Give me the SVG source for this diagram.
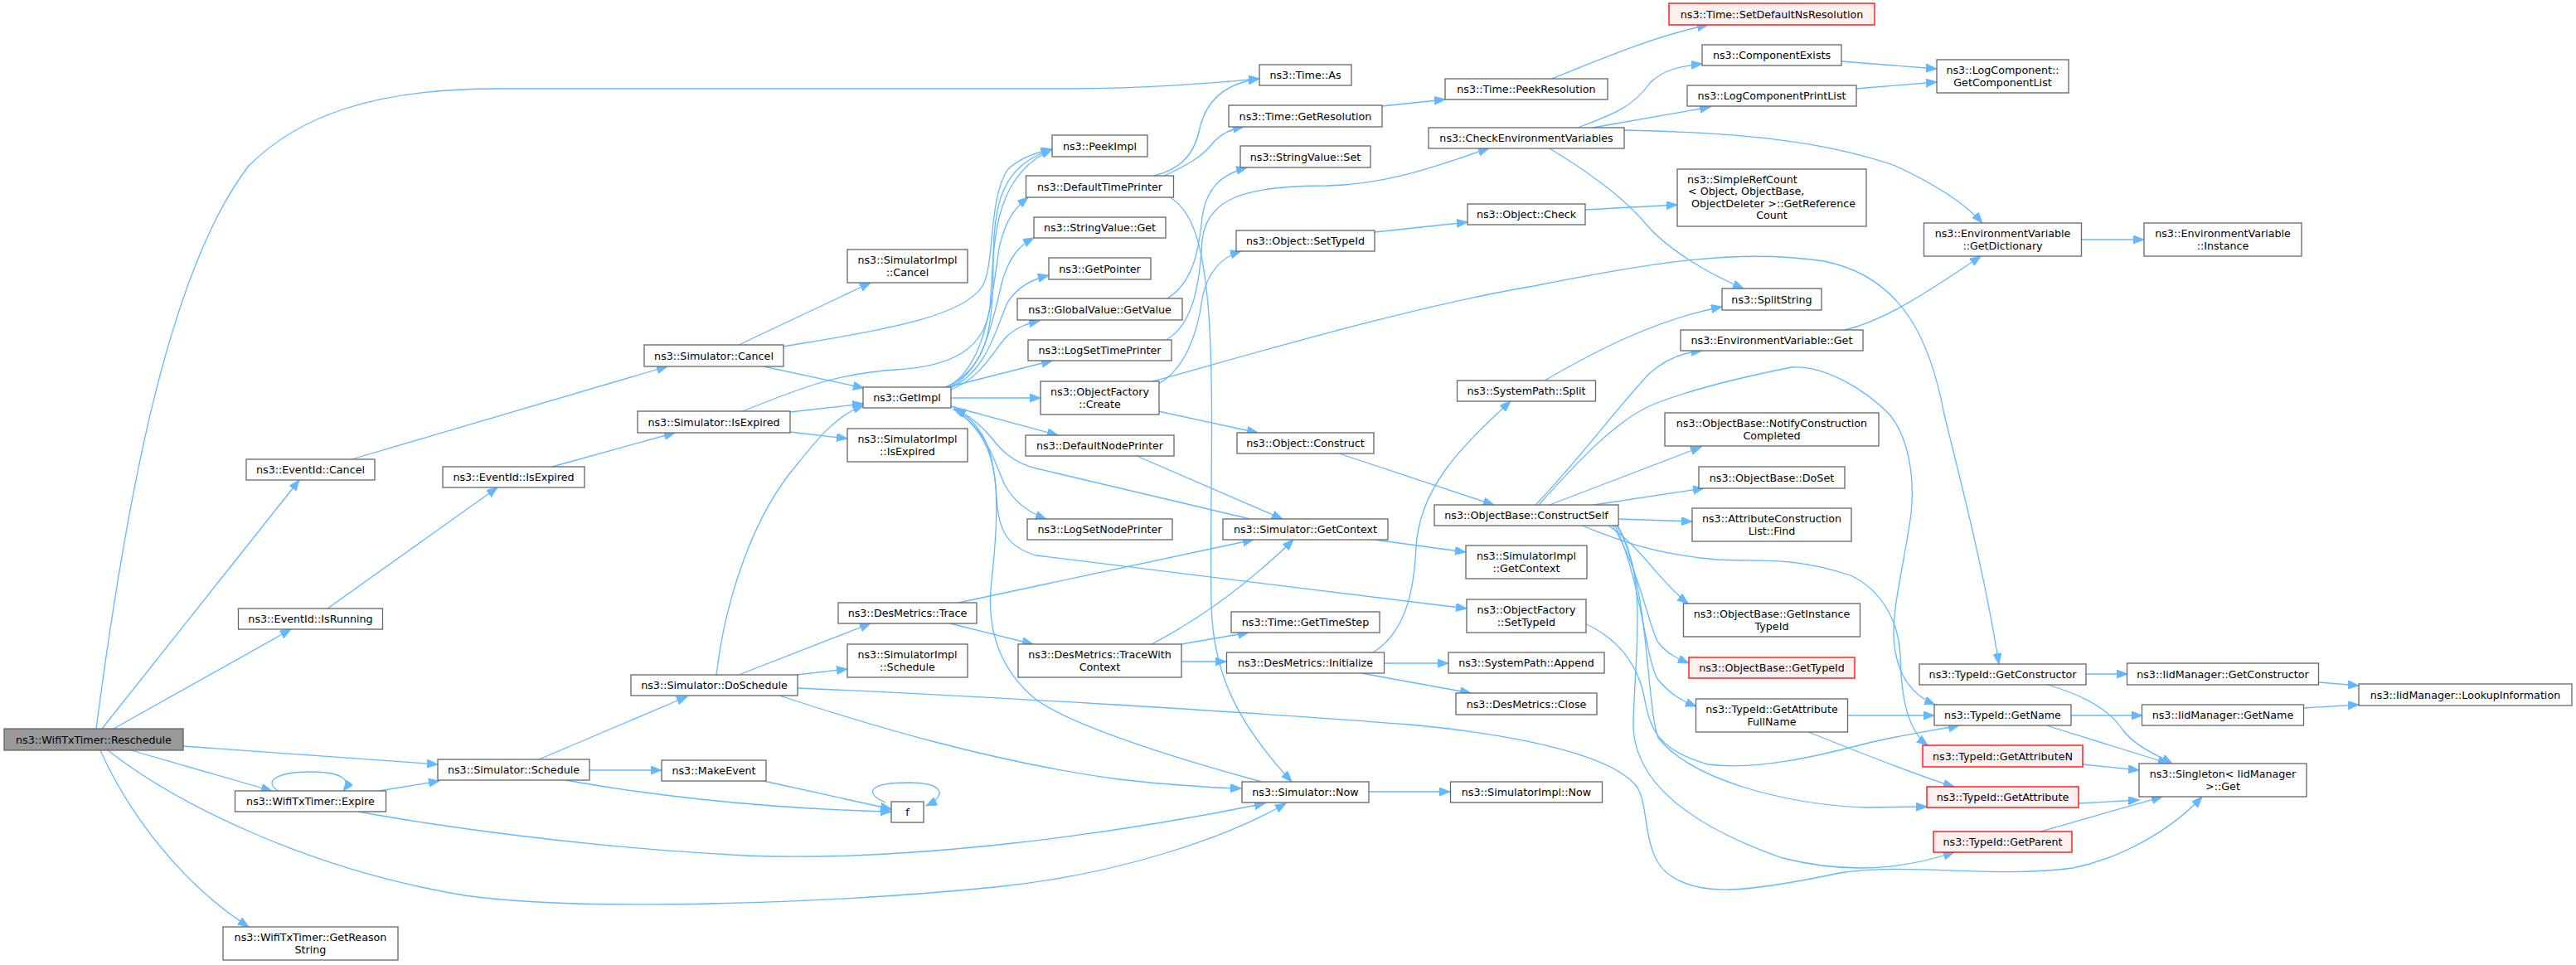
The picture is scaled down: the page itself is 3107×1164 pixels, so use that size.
<svg xmlns="http://www.w3.org/2000/svg" width="3107" height="1164" viewBox="0 0 3107 1164">
<style>
.node rect{fill:#ffffff;stroke:#666666;stroke-width:1.3}
.root rect{fill:#999999}
.red rect{fill:#fff0f0;stroke:#ff0000}
text{font-family:"DejaVu Sans","Liberation Sans",sans-serif;font-size:12.7px;fill:#000000;text-anchor:middle}
text.l{text-anchor:start}
#edges path{fill:none;stroke:#63b8ff;stroke-width:1.3;marker-end:url(#arr)}
</style>
<defs>
<marker id="arr" markerUnits="userSpaceOnUse" markerWidth="14" markerHeight="11" refX="13" refY="5" orient="auto"><path d="M0,0 L13,5 L0,10 z" fill="#63b8ff" stroke="#63b8ff" stroke-width="1"/></marker>
</defs>
<rect width="3107" height="1164" fill="#ffffff"/>
<g id="edges">
<path d="M116,879 C150,620 200,330 300,200 C360,140 450,107 600,107 L1290,107 C1400,106 1460,100 1519,95"/>
<path d="M123,879 L361,579"/>
<path d="M137,879 L351,759"/>
<path d="M221,900 L528,922"/>
<path d="M158,905 L328,954"/>
<path d="M130,905 C220,975 380,1050 560,1080 C700,1100 1000,1090 1200,1070 C1350,1055 1480,1010 1551,969"/>
<path d="M121,905 C150,970 210,1060 300,1118"/>
<path d="M424,554 L805,442"/>
<path d="M395,734 L600,588"/>
<path d="M666,563 L814,522"/>
<path d="M891,416 L1050,341"/>
<path d="M921,442 L1042,468"/>
<path d="M945,418 C1050,400 1160,385 1185,345 C1200,320 1192,240 1215,205 C1230,190 1250,184 1269,180"/>
<path d="M953,497 L1041,487"/>
<path d="M953,521 L1022,529"/>
<path d="M896,496 C960,470 1010,450 1080,446 C1150,442 1188,420 1194,370 C1200,300 1193,215 1269,180"/>
<path d="M650,916 L829,840"/>
<path d="M711,929 L798,929"/>
<path d="M682,941 C760,955 900,975 1075,979"/>
<path d="M921,942 L1075,976"/>
<path d="M1068,968 C1040,956 1050,944 1095,944 C1140,944 1142,960 1117,972"/>
<path d="M457,954 L530,942"/>
<path d="M336,954 C318,944 330,931 375,931 C410,931 425,940 414,954"/>
<path d="M432,979 C520,995 700,1022 900,1032 C1100,1040 1350,1005 1526,969"/>
<path d="M891,814 L1050,752"/>
<path d="M961,814 L1022,807"/>
<path d="M864,814 C875,720 910,620 960,562 C985,530 1010,500 1042,489"/>
<path d="M940,839 C1050,875 1200,920 1350,940 C1420,948 1460,950 1497,951"/>
<path d="M962,830 C1150,838 1500,858 1700,874 C1850,888 1950,915 1975,950 C1990,975 1980,1035 2016,1057 C2050,1080 2100,1078 2219,1053 C2300,1040 2400,1060 2500,1047 C2560,1035 2620,1000 2656,961"/>
<path d="M1146,752 L1246,777"/>
<path d="M1156,727 L1512,651"/>
<path d="M1389,777 C1460,740 1520,690 1560,651"/>
<path d="M1425,777 L1506,763"/>
<path d="M1425,798 L1479,798"/>
<path d="M1669,800 L1747,800"/>
<path d="M1642,812 L1774,836"/>
<path d="M1656,787 C1700,760 1706,700 1708,660 C1712,590 1760,540 1822,484"/>
<path d="M1863,459 C1930,420 2000,385 2077,370"/>
<path d="M1651,955 L1749,955"/>
<path d="M1522,943 C1400,910 1280,870 1245,840 C1200,800 1190,750 1196,700 C1205,620 1205,560 1185,525 C1175,508 1165,500 1150,493"/>
<path d="M1508,626 L1250,565 C1220,558 1205,540 1195,527 C1183,512 1170,502 1152,493"/>
<path d="M1658,651 L1768,666"/>
<path d="M1371,550 L1547,626"/>
<path d="M1147,490 L1276,525"/>
<path d="M1150,494 C1190,515 1200,560 1212,585 C1225,608 1245,620 1262,626"/>
<path d="M1150,493 C1192,520 1200,560 1202,600 C1204,640 1215,660 1250,670 L1769,734"/>
<path d="M1140,467 C1190,445 1198,400 1198,320 C1198,240 1210,200 1269,180"/>
<path d="M1143,467 C1190,440 1196,360 1205,300 C1212,265 1225,250 1240,238"/>
<path d="M1145,467 C1190,445 1198,380 1210,335 C1220,305 1232,295 1247,287"/>
<path d="M1146,468 C1190,448 1200,400 1215,365 C1228,345 1245,337 1265,332"/>
<path d="M1147,470 C1185,455 1200,420 1215,405 C1228,394 1240,390 1254,387"/>
<path d="M1147,466 L1269,435"/>
<path d="M1147,480 L1255,480"/>
<path d="M1392,212 C1420,205 1440,190 1447,155 C1455,120 1480,100 1519,95"/>
<path d="M1404,212 C1430,200 1450,190 1465,170 C1475,160 1488,155 1500,153"/>
<path d="M1411,238 C1440,255 1452,300 1458,380 C1465,480 1459,620 1461,730 C1463,820 1500,880 1558,943"/>
<path d="M1408,360 C1440,340 1446,300 1450,262 C1455,225 1475,210 1504,202"/>
<path d="M1408,409 C1440,390 1447,340 1450,290 C1455,240 1500,224 1600,224 C1680,222 1740,197 1796,179"/>
<path d="M1397,463 C1430,445 1445,400 1450,360 C1458,320 1480,308 1497,303"/>
<path d="M1390,460 C1500,430 1700,370 1850,345 C2000,315 2100,300 2200,315 C2300,335 2330,420 2345,500 C2370,600 2395,700 2411,801"/>
<path d="M1397,496 L1517,522"/>
<path d="M1658,280 L1770,268"/>
<path d="M1912,253 L2023,247"/>
<path d="M1615,547 L1802,609"/>
<path d="M1903,154 C1940,140 1970,130 1990,100 C2005,85 2025,80 2053,77"/>
<path d="M1921,154 L2063,129"/>
<path d="M1959,157 C2100,160 2200,170 2286,200 C2330,220 2370,245 2391,269"/>
<path d="M1869,179 C1920,210 1960,240 1985,270 C2010,300 2060,330 2103,348"/>
<path d="M1871,95 C1930,72 1990,45 2060,30"/>
<path d="M1667,128 L1743,120"/>
<path d="M2221,74 L2336,83"/>
<path d="M2239,107 L2336,99"/>
<path d="M2225,398 C2260,390 2300,370 2389,309"/>
<path d="M2511,289 L2586,289"/>
<path d="M1852,609 C1900,560 1960,480 1990,450 C2010,432 2030,425 2053,423"/>
<path d="M1856,609 C1900,560 1950,505 1996,487 C2040,470 2100,455 2161,443 C2200,440 2250,470 2279,500 C2300,525 2310,570 2305,620 C2295,690 2280,740 2285,780 C2290,820 2310,840 2334,850"/>
<path d="M1869,609 L2052,539"/>
<path d="M1922,609 L2055,589"/>
<path d="M1952,626 L2041,629"/>
<path d="M1908,634 C1950,650 1990,668 2071,675 C2120,678 2160,670 2232,694 C2270,712 2290,750 2292,790 C2293,840 2300,880 2325,899"/>
<path d="M1940,634 C1980,660 2000,700 2036,728"/>
<path d="M1945,634 C1975,680 1990,760 2000,775 C2012,790 2025,795 2037,800"/>
<path d="M1948,634 C1980,700 1985,800 2000,820 C2015,838 2030,846 2046,852"/>
<path d="M1950,634 C1990,700 1985,850 2000,890 C2040,940 2150,970 2250,974 L2324,973"/>
<path d="M1951,634 C1990,700 1970,800 1970,880 C1975,950 2050,1000 2150,1035 C2250,1060 2320,1040 2357,1028"/>
<path d="M1912,752 C1950,770 1975,800 1983,840 C1990,880 2000,905 2060,922 C2120,930 2200,910 2250,897 C2300,885 2340,880 2363,875"/>
<path d="M2229,863 L2333,863"/>
<path d="M2181,883 C2250,910 2310,935 2357,949"/>
<path d="M2516,813 L2566,813"/>
<path d="M2470,826 C2500,835 2540,850 2560,880 C2575,900 2600,910 2620,921"/>
<path d="M2498,863 L2584,863"/>
<path d="M2468,875 L2616,921"/>
<path d="M2512,922 L2580,929"/>
<path d="M2507,969 L2580,965"/>
<path d="M2461,1003 L2608,961"/>
<path d="M2797,823 L2845,827"/>
<path d="M2779,854 L2845,850"/>
</g>
<g id="reschedule" class="node root"><rect x="5" y="879" width="216" height="26"/><text x="113" y="896.5">ns3::WifiTxTimer::Reschedule</text></g>
<g id="time_as" class="node"><rect x="1519" y="78" width="111" height="25"/><text x="1574.5" y="95">ns3::Time::As</text></g>
<g id="eventid_cancel" class="node"><rect x="297" y="554" width="155" height="25"/><text x="374.5" y="571">ns3::EventId::Cancel</text></g>
<g id="eventid_isrunning" class="node"><rect x="287.5" y="734" width="174" height="25"/><text x="374.5" y="751">ns3::EventId::IsRunning</text></g>
<g id="sim_schedule" class="node"><rect x="528" y="916" width="183" height="25"/><text x="619.5" y="933">ns3::Simulator::Schedule</text></g>
<g id="expire" class="node"><rect x="283.5" y="954" width="182" height="25"/><text x="374.5" y="971">ns3::WifiTxTimer::Expire</text></g>
<g id="sim_now" class="node"><rect x="1498" y="943" width="153" height="25"/><text x="1574.5" y="960">ns3::Simulator::Now</text></g>
<g id="getreasonstring" class="node"><rect x="269" y="1118" width="211" height="40"/><text x="374.5" y="1135">ns3::WifiTxTimer::GetReason</text><text x="374.5" y="1150">String</text></g>
<g id="sim_cancel" class="node"><rect x="777" y="416" width="168" height="26"/><text x="861" y="433.5">ns3::Simulator::Cancel</text></g>
<g id="eventid_isexpired" class="node"><rect x="534" y="563" width="171" height="25"/><text x="619.5" y="580">ns3::EventId::IsExpired</text></g>
<g id="sim_isexpired" class="node"><rect x="769" y="496" width="184" height="26"/><text x="861" y="513.5">ns3::Simulator::IsExpired</text></g>
<g id="doschedule" class="node"><rect x="761" y="814" width="201" height="25"/><text x="861.5" y="831">ns3::Simulator::DoSchedule</text></g>
<g id="makeevent" class="node"><rect x="798" y="917" width="126" height="25"/><text x="861" y="934">ns3::MakeEvent</text></g>
<g id="f" class="node"><rect x="1075" y="967" width="39" height="25"/><text x="1094.5" y="984">f</text></g>
<g id="simimpl_cancel" class="node"><rect x="1022" y="301" width="145" height="40"/><text x="1094.5" y="318">ns3::SimulatorImpl</text><text x="1094.5" y="333">::Cancel</text></g>
<g id="getimpl" class="node"><rect x="1041" y="467" width="106" height="25"/><text x="1094" y="484">ns3::GetImpl</text></g>
<g id="simimpl_isexpired" class="node"><rect x="1022" y="517" width="145" height="40"/><text x="1094.5" y="534">ns3::SimulatorImpl</text><text x="1094.5" y="549">::IsExpired</text></g>
<g id="desmetrics_trace" class="node"><rect x="1011" y="727" width="167" height="25"/><text x="1094.5" y="744">ns3::DesMetrics::Trace</text></g>
<g id="simimpl_schedule" class="node"><rect x="1022" y="777" width="145" height="40"/><text x="1094.5" y="794">ns3::SimulatorImpl</text><text x="1094.5" y="809">::Schedule</text></g>
<g id="peekimpl" class="node"><rect x="1269" y="163" width="115" height="26"/><text x="1326.5" y="180.5">ns3::PeekImpl</text></g>
<g id="defaulttimeprinter" class="node"><rect x="1237.5" y="212" width="178" height="26"/><text x="1326.5" y="229.5">ns3::DefaultTimePrinter</text></g>
<g id="stringvalue_get" class="node"><rect x="1247" y="262" width="159" height="25"/><text x="1326.5" y="279">ns3::StringValue::Get</text></g>
<g id="getpointer" class="node"><rect x="1265" y="311" width="123" height="26"/><text x="1326.5" y="328.5">ns3::GetPointer</text></g>
<g id="globalvalue_getvalue" class="node"><rect x="1227" y="360" width="199" height="26"/><text x="1326.5" y="377.5">ns3::GlobalValue::GetValue</text></g>
<g id="logsettimeprinter" class="node"><rect x="1240" y="410" width="173" height="25"/><text x="1326.5" y="427">ns3::LogSetTimePrinter</text></g>
<g id="objectfactory_create" class="node"><rect x="1255" y="460" width="143" height="40"/><text x="1326.5" y="477">ns3::ObjectFactory</text><text x="1326.5" y="492">::Create</text></g>
<g id="defaultnodeprinter" class="node"><rect x="1237" y="525" width="179" height="25"/><text x="1326.5" y="542">ns3::DefaultNodePrinter</text></g>
<g id="logsetnodeprinter" class="node"><rect x="1239" y="626" width="175" height="25"/><text x="1326.5" y="643">ns3::LogSetNodePrinter</text></g>
<g id="sim_getcontext" class="node"><rect x="1475" y="626" width="199" height="25"/><text x="1574.5" y="643">ns3::Simulator::GetContext</text></g>
<g id="tracewithcontext" class="node"><rect x="1228" y="777" width="197" height="40"/><text x="1326.5" y="794">ns3::DesMetrics::TraceWith</text><text x="1326.5" y="809">Context</text></g>
<g id="time_getresolution" class="node"><rect x="1482" y="127" width="185" height="26"/><text x="1574.5" y="144.5">ns3::Time::GetResolution</text></g>
<g id="stringvalue_set" class="node"><rect x="1496" y="176" width="157" height="26"/><text x="1574.5" y="193.5">ns3::StringValue::Set</text></g>
<g id="object_settypeid" class="node"><rect x="1491" y="278" width="167" height="25"/><text x="1574.5" y="295">ns3::Object::SetTypeId</text></g>
<g id="object_construct" class="node"><rect x="1492" y="522" width="165" height="25"/><text x="1574.5" y="539">ns3::Object::Construct</text></g>
<g id="time_gettimestep" class="node"><rect x="1485" y="738" width="179" height="25"/><text x="1574.5" y="755">ns3::Time::GetTimeStep</text></g>
<g id="desmetrics_initialize" class="node"><rect x="1479.5" y="787" width="190" height="25"/><text x="1574.5" y="804">ns3::DesMetrics::Initialize</text></g>
<g id="time_peekresolution" class="node"><rect x="1743" y="95" width="196" height="25"/><text x="1841" y="112">ns3::Time::PeekResolution</text></g>
<g id="checkenvironmentvariables" class="node"><rect x="1723" y="154" width="236" height="25"/><text x="1841" y="171">ns3::CheckEnvironmentVariables</text></g>
<g id="object_check" class="node"><rect x="1770" y="246" width="142" height="25"/><text x="1841" y="263">ns3::Object::Check</text></g>
<g id="systempath_split" class="node"><rect x="1757.5" y="459" width="167" height="25"/><text x="1841" y="476">ns3::SystemPath::Split</text></g>
<g id="constructself" class="node"><rect x="1730" y="609" width="222" height="25"/><text x="1841" y="626">ns3::ObjectBase::ConstructSelf</text></g>
<g id="simimpl_getcontext" class="node"><rect x="1768" y="658" width="146" height="40"/><text x="1841" y="675">ns3::SimulatorImpl</text><text x="1841" y="690">::GetContext</text></g>
<g id="objectfactory_settypeid" class="node"><rect x="1769" y="723" width="144" height="40"/><text x="1841" y="740">ns3::ObjectFactory</text><text x="1841" y="755">::SetTypeId</text></g>
<g id="systempath_append" class="node"><rect x="1747" y="787" width="188" height="25"/><text x="1841" y="804">ns3::SystemPath::Append</text></g>
<g id="desmetrics_close" class="node"><rect x="1756" y="836" width="170" height="26"/><text x="1841" y="853.5">ns3::DesMetrics::Close</text></g>
<g id="simimpl_now" class="node"><rect x="1749.5" y="943" width="183" height="25"/><text x="1841" y="960">ns3::SimulatorImpl::Now</text></g>
<g id="setdefaultnsresolution" class="node red"><rect x="2013" y="4" width="248" height="26"/><text x="2137" y="21.5">ns3::Time::SetDefaultNsResolution</text></g>
<g id="componentexists" class="node"><rect x="2053" y="54" width="168" height="25"/><text x="2137" y="71">ns3::ComponentExists</text></g>
<g id="logcomponentprintlist" class="node"><rect x="2035" y="103" width="204" height="25"/><text x="2137" y="120">ns3::LogComponentPrintList</text></g>
<g id="simplerefcount" class="node"><rect x="2023" y="204" width="228" height="69"/><text class="l" x="2035" y="220.5">ns3::SimpleRefCount</text><text class="l" x="2036" y="235">&lt; Object, ObjectBase,</text><text x="2139" y="249.5">ObjectDeleter &gt;::GetReference</text><text x="2137" y="264">Count</text></g>
<g id="splitstring" class="node"><rect x="2077" y="348" width="120" height="26"/><text x="2137" y="365.5">ns3::SplitString</text></g>
<g id="environmentvariable_get" class="node"><rect x="2027" y="398" width="220" height="25"/><text x="2137" y="415">ns3::EnvironmentVariable::Get</text></g>
<g id="notifyconstructioncompleted" class="node"><rect x="2008" y="498" width="258" height="40"/><text x="2137" y="515">ns3::ObjectBase::NotifyConstruction</text><text x="2137" y="530">Completed</text></g>
<g id="objectbase_doset" class="node"><rect x="2049" y="563" width="176" height="26"/><text x="2137" y="580.5">ns3::ObjectBase::DoSet</text></g>
<g id="attributeconstructionlist_find" class="node"><rect x="2041" y="613" width="192" height="40"/><text x="2137" y="630">ns3::AttributeConstruction</text><text x="2137" y="645">List::Find</text></g>
<g id="getinstancetypeid" class="node"><rect x="2030.5" y="728" width="213" height="40"/><text x="2137" y="745">ns3::ObjectBase::GetInstance</text><text x="2137" y="760">TypeId</text></g>
<g id="objectbase_gettypeid" class="node red"><rect x="2037" y="793" width="200" height="25"/><text x="2137" y="810">ns3::ObjectBase::GetTypeId</text></g>
<g id="getattributefullname" class="node"><rect x="2045.5" y="843" width="183" height="40"/><text x="2137" y="860">ns3::TypeId::GetAttribute</text><text x="2137" y="875">FullName</text></g>
<g id="getcomponentlist" class="node"><rect x="2336" y="72" width="159" height="40"/><text x="2415.5" y="89">ns3::LogComponent::</text><text x="2415.5" y="104">GetComponentList</text></g>
<g id="getdictionary" class="node"><rect x="2320.5" y="269" width="190" height="40"/><text x="2415.5" y="286">ns3::EnvironmentVariable</text><text x="2415.5" y="301">::GetDictionary</text></g>
<g id="typeid_getconstructor" class="node"><rect x="2315" y="801" width="201" height="25"/><text x="2415.5" y="818">ns3::TypeId::GetConstructor</text></g>
<g id="typeid_getname" class="node"><rect x="2333" y="850" width="165" height="25"/><text x="2415.5" y="867">ns3::TypeId::GetName</text></g>
<g id="typeid_getattributen" class="node red"><rect x="2319" y="899" width="193" height="26"/><text x="2415.5" y="916.5">ns3::TypeId::GetAttributeN</text></g>
<g id="typeid_getattribute" class="node red"><rect x="2324" y="949" width="183" height="25"/><text x="2415.5" y="966">ns3::TypeId::GetAttribute</text></g>
<g id="typeid_getparent" class="node red"><rect x="2332" y="1003" width="167" height="25"/><text x="2415.5" y="1020">ns3::TypeId::GetParent</text></g>
<g id="environmentvariable_instance" class="node"><rect x="2586" y="269" width="190" height="40"/><text x="2681" y="286">ns3::EnvironmentVariable</text><text x="2681" y="301">::Instance</text></g>
<g id="iidmanager_getconstructor" class="node"><rect x="2565.5" y="800" width="231" height="26"/><text x="2681" y="817.5">ns3::IidManager::GetConstructor</text></g>
<g id="iidmanager_getname" class="node"><rect x="2583.5" y="850" width="195" height="25"/><text x="2681" y="867">ns3::IidManager::GetName</text></g>
<g id="singleton_get" class="node"><rect x="2580" y="921" width="202" height="40"/><text x="2681" y="938">ns3::Singleton&lt; IidManager</text><text x="2681" y="953">&gt;::Get</text></g>
<g id="iidmanager_lookupinformation" class="node"><rect x="2845" y="825" width="257" height="26"/><text x="2973.5" y="842.5">ns3::IidManager::LookupInformation</text></g>
</svg>
